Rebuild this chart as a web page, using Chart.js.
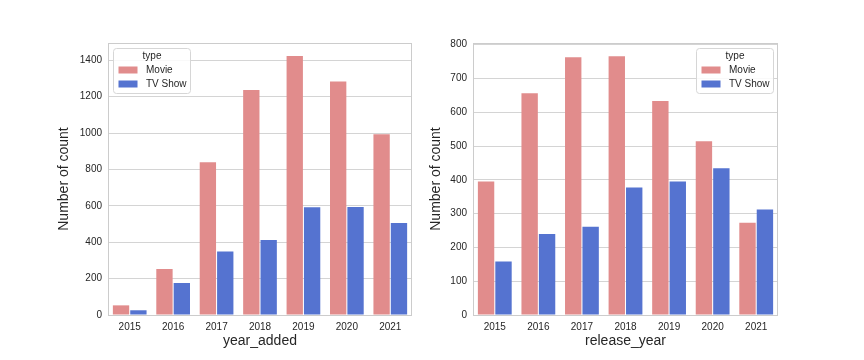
<!DOCTYPE html>
<html><head><meta charset="utf-8">
<script src="https://cdn.jsdelivr.net/npm/chart.js@4/dist/chart.umd.min.js"></script>
<style>
html,body{margin:0;padding:0;background:#fff;width:864px;height:360px;overflow:hidden;}
#w1{position:absolute;left:0;top:0;width:420px;height:360px;}
#w2{position:absolute;left:420px;top:0;width:444px;height:360px;}
</style></head><body>
<div id="w1"><canvas id="c1"></canvas></div>
<div id="w2"><canvas id="c2"></canvas></div>
<script>
const years = ['2015','2016','2017','2018','2019','2020','2021'];
const seriesNames = ['Movie','TV Show'];
const legendTitle = 'type';
const addedMovie = [53, 253, 839, 1237, 1424, 1284, 993];
const addedTV = [26, 176, 349, 412, 592, 593, 505];
const releaseMovie = [395, 656, 763, 766, 633, 514, 273];
const releaseTV = [158, 240, 261, 377, 395, 434, 312];
const addedTicks = [0, 200, 400, 600, 800, 1000, 1200, 1400];
const releaseTicks = [0, 100, 200, 300, 400, 500, 600, 700, 800];
const yTitle = 'Number of count';

const colors = ['#E18C8C', '#5573D0'];
const FONT = "'Liberation Sans', Arial, sans-serif";
const TEXT = '#262626';

const frameAndLegend = {
  id: 'frameAndLegend',
  afterDraw(chart, args, opts) {
    const ctx = chart.ctx, a = chart.chartArea;
    ctx.save();
    ctx.strokeStyle = '#cccccc';
    ctx.lineWidth = 1;
    ctx.strokeRect(Math.round(a.left) + 0.5, Math.round(a.top) + 0.5,
                   Math.round(a.right - a.left) - 1, Math.round(a.bottom - a.top));
    const b = opts.box;
    const r = 3;
    ctx.beginPath();
    ctx.moveTo(b.x + r, b.y);
    ctx.lineTo(b.x + b.w - r, b.y);
    ctx.quadraticCurveTo(b.x + b.w, b.y, b.x + b.w, b.y + r);
    ctx.lineTo(b.x + b.w, b.y + b.h - r);
    ctx.quadraticCurveTo(b.x + b.w, b.y + b.h, b.x + b.w - r, b.y + b.h);
    ctx.lineTo(b.x + r, b.y + b.h);
    ctx.quadraticCurveTo(b.x, b.y + b.h, b.x, b.y + b.h - r);
    ctx.lineTo(b.x, b.y + r);
    ctx.quadraticCurveTo(b.x, b.y, b.x + r, b.y);
    ctx.closePath();
    ctx.fillStyle = 'rgba(255,255,255,0.85)';
    ctx.fill();
    ctx.strokeStyle = '#d6d6d6';
    ctx.stroke();
    ctx.fillStyle = TEXT;
    ctx.font = '10px ' + FONT;
    ctx.textBaseline = 'middle';
    ctx.textAlign = 'center';
    ctx.fillText(legendTitle, b.x + b.w / 2, b.y + 8);
    ctx.textAlign = 'left';
    chart.data.datasets.forEach((ds, i) => {
      const cy = b.y + 21.5 + i * 14;
      ctx.fillStyle = ds.backgroundColor;
      ctx.fillRect(b.x + 5, cy - 3.5, 19, 7);
      ctx.fillStyle = TEXT;
      ctx.fillText(ds.label, b.x + 32.5, cy);
    });
    ctx.restore();
  }
};

function makeChart(id, movie, tv, tickVals, ymax, xTitle, yAxisWidth, yTitlePad, padRight, legendBox) {
  return new Chart(document.getElementById(id), {
    type: 'bar',
    data: {
      labels: years,
      datasets: [
        {label: seriesNames[0], data: movie, backgroundColor: colors[0]},
        {label: seriesNames[1], data: tv, backgroundColor: colors[1]}
      ]
    },
    options: {
      responsive: true,
      maintainAspectRatio: false,
      animation: false,
      events: [],
      layout: {padding: {top: 43, right: padRight, left: 0, bottom: 0}},
      datasets: {bar: {categoryPercentage: 0.8, barPercentage: 0.94, borderWidth: 0}},
      plugins: {
        legend: {display: false},
        tooltip: {enabled: false},
        frameAndLegend: {box: legendBox}
      },
      scales: {
        x: {
          grid: {display: false, drawTicks: false},
          border: {display: false},
          ticks: {color: TEXT, font: {family: FONT, size: 10}, padding: 6, maxRotation: 0},
          title: {display: true, text: xTitle, color: TEXT, font: {family: FONT, size: 14},
                  padding: {top: 0, bottom: 10.5}},
          afterFit(s) { s.height = 45; }
        },
        y: {
          min: 0, max: ymax,
          grid: {color: '#d4d4d4', lineWidth: 1, drawTicks: false},
          border: {display: false},
          ticks: {color: TEXT, font: {family: FONT, size: 10}, padding: 6,
                  callback: v => String(v)},
          afterBuildTicks(s) { s.ticks = tickVals.map(v => ({value: v})); },
          title: {display: true, text: yTitle, color: TEXT, font: {family: FONT, size: 14},
                  padding: {top: yTitlePad, bottom: 0}},
          afterFit(s) { s.width = yAxisWidth; }
        }
      }
    },
    plugins: [frameAndLegend]
  });
}

makeChart('c1', addedMovie, addedTV, addedTicks, 1495, 'year_added', 108, 55.5, 8,
          {x: 113.5, y: 48.5, w: 77, h: 45});
makeChart('c2', releaseMovie, releaseTV, releaseTicks, 805, 'release_year', 53, 8, 86,
          {x: 276.5, y: 48.5, w: 77, h: 45});
</script>
</body></html>
